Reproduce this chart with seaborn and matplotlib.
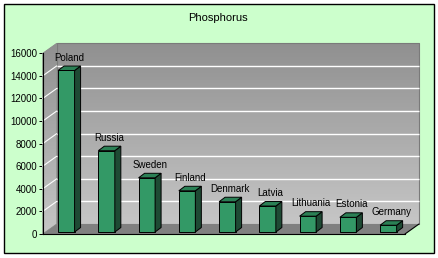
import matplotlib
matplotlib.use("Agg")
import matplotlib.pyplot as plt
import seaborn as sns
import numpy as np
import pandas as pd
from matplotlib.patches import Polygon, Rectangle
from matplotlib.colors import LinearSegmentedColormap

# ---- data ----
countries = ["Poland", "Russia", "Sweden", "Finland", "Denmark",
             "Latvia", "Lithuania", "Estonia", "Germany"]
phosphorus = [14300, 7200, 4800, 3650, 2680, 2300, 1400, 1300, 600]
y_ticks = [0, 2000, 4000, 6000, 8000, 10000, 12000, 14000, 16000]
title = "Phosphorus"

df = pd.DataFrame({"country": countries, "value": phosphorus})

sns.set_theme(style="white")
plt.rcParams["font.family"] = ["Liberation Sans", "DejaVu Sans"]

W, H = 439, 258
fig = plt.figure(figsize=(W / 100, H / 100), dpi=100)
fig.patch.set_facecolor("white")
fig.patches.append(Rectangle((4.5 / W, 4.7 / H), 430 / W, 249 / H,
                             transform=fig.transFigure, facecolor="#ccffcc",
                             edgecolor="black", lw=1.0, zorder=-5))

# front plane of the 3D box
ax_l, ax_r, ax_t, ax_b = 42.7, 405.0, 53.3, 234.0
ax = fig.add_axes([ax_l / W, (H - ax_b) / H, (ax_r - ax_l) / W, (ax_b - ax_t) / H])
ax.set_facecolor("none")
ymax = y_ticks[-1]
n = len(countries)

sns.barplot(data=df, x="country", y="value", ax=ax, color="#339966",
            width=0.41, edgecolor="black", linewidth=0.7, saturation=1, zorder=3)
ax.set_xlim(-0.5, n - 0.5)
ax.set_ylim(0, ymax)

# pixel -> data conversion
kx = n / (ax_r - ax_l)
ky = ymax / (ax_b - ax_t)
WX, WY = 14 * kx, 10 * ky   # wall depth
BX, BY = 3.5 * kx, 2 * ky   # bar position in depth
DX, DY = 6 * kx, 4.5 * ky   # bar depth

cmap = LinearSegmentedColormap.from_list("wall", ["#c6c6c6", "#909090"])
grad = np.linspace(0, 1, 256).reshape(-1, 1)

# back wall
x0w, x1w = -0.5 + WX, n - 0.5 + WX
im = ax.imshow(grad, extent=[x0w, x1w, WY, ymax + WY], origin="lower",
               aspect="auto", cmap=cmap, zorder=0.5, interpolation="bilinear")
im.set_clip_box(fig.bbox)
ax.add_patch(Rectangle((x0w, WY), x1w - x0w, ymax, facecolor="none",
                       edgecolor="#7a7a7a", lw=0.8, zorder=0.6, clip_on=False))

# left side wall
side = Polygon([(-0.5, 0), (-0.5 + WX, WY), (-0.5 + WX, ymax + WY), (-0.5, ymax)],
               closed=True, facecolor="none", edgecolor="#8a8a8a", lw=0.6,
               zorder=0.7, clip_on=False)
ax.add_patch(side)
im2 = ax.imshow(grad, extent=[-0.5, -0.5 + WX, 0, ymax + WY], origin="lower",
                aspect="auto", cmap=cmap, zorder=0.55, interpolation="bilinear")
im2.set_clip_box(fig.bbox)
clip_poly = Polygon(side.get_xy(), closed=True, transform=ax.transData)
im2.set_clip_path(clip_poly)

# gridlines on back wall and side wall
for v in y_ticks[1:-1]:
    ax.plot([x0w, x1w], [v + WY, v + WY], color="white", lw=1.0, zorder=0.8,
            clip_on=False, solid_capstyle="butt")
    ax.plot([-0.5, -0.5 + WX], [v, v + WY], color="white", lw=0.8, zorder=0.8,
            clip_on=False)

# floor
floor = Polygon([(-0.5, 0), (n - 0.5, 0), (n - 0.5 + WX, WY), (-0.5 + WX, WY)],
                closed=True, facecolor="#808080", edgecolor="none", zorder=1,
                clip_on=False)
ax.add_patch(floor)
ax.plot([n - 0.5, n - 0.5 + WX], [0, WY], color="black", lw=0.8, zorder=1.1,
        clip_on=False)

# 3D bars
bars = list(ax.containers[0])
for p, name in zip(bars, countries):
    p.set_x(p.get_x() + BX)
    p.set_y(p.get_y() + BY)
    p.set_clip_on(False)
    x0 = p.get_x()
    w = p.get_width()
    x1 = x0 + w
    y0 = p.get_y()
    y1 = y0 + p.get_height()
    ax.add_patch(Polygon([(x1, y0), (x1 + DX, y0 + DY), (x1 + DX, y1 + DY), (x1, y1)],
                         closed=True, facecolor="#1e4a34", edgecolor="black",
                         lw=0.7, zorder=3, clip_on=False))
    ax.add_patch(Polygon([(x0, y1), (x1, y1), (x1 + DX, y1 + DY), (x0 + DX, y1 + DY)],
                         closed=True, facecolor="#2b8055", edgecolor="black",
                         lw=0.7, zorder=3, clip_on=False))
    ax.annotate(name, xy=(x0 + w / 2 + DX / 2, y1 + DY), xytext=(0, 2.5),
                textcoords="offset points", ha="center", va="bottom",
                fontsize=7, color="black", zorder=4, annotation_clip=False)

# axes styling
for s in ["top", "right"]:
    ax.spines[s].set_visible(False)
ax.spines["left"].set_color("black")
ax.spines["left"].set_linewidth(0.8)
ax.spines["bottom"].set_color("black")
ax.spines["bottom"].set_linewidth(0.8)
ax.spines["left"].set_zorder(5)
ax.spines["bottom"].set_zorder(5)
ax.set_yticks(y_ticks)
ax.set_yticklabels([str(v) for v in y_ticks])
ax.tick_params(axis="y", left=True, length=2.6, width=0.7, pad=1.2,
               labelsize=7, colors="black")
ax.set_xticks([])
ax.set_xlabel("")
ax.set_ylabel("")
ax.grid(False)

fig.text(218 / W, 1 - 18 / H, title, ha="center", va="center", fontsize=8,
         color="black")

fig.savefig("out.png", dpi=100, facecolor=fig.get_facecolor())
